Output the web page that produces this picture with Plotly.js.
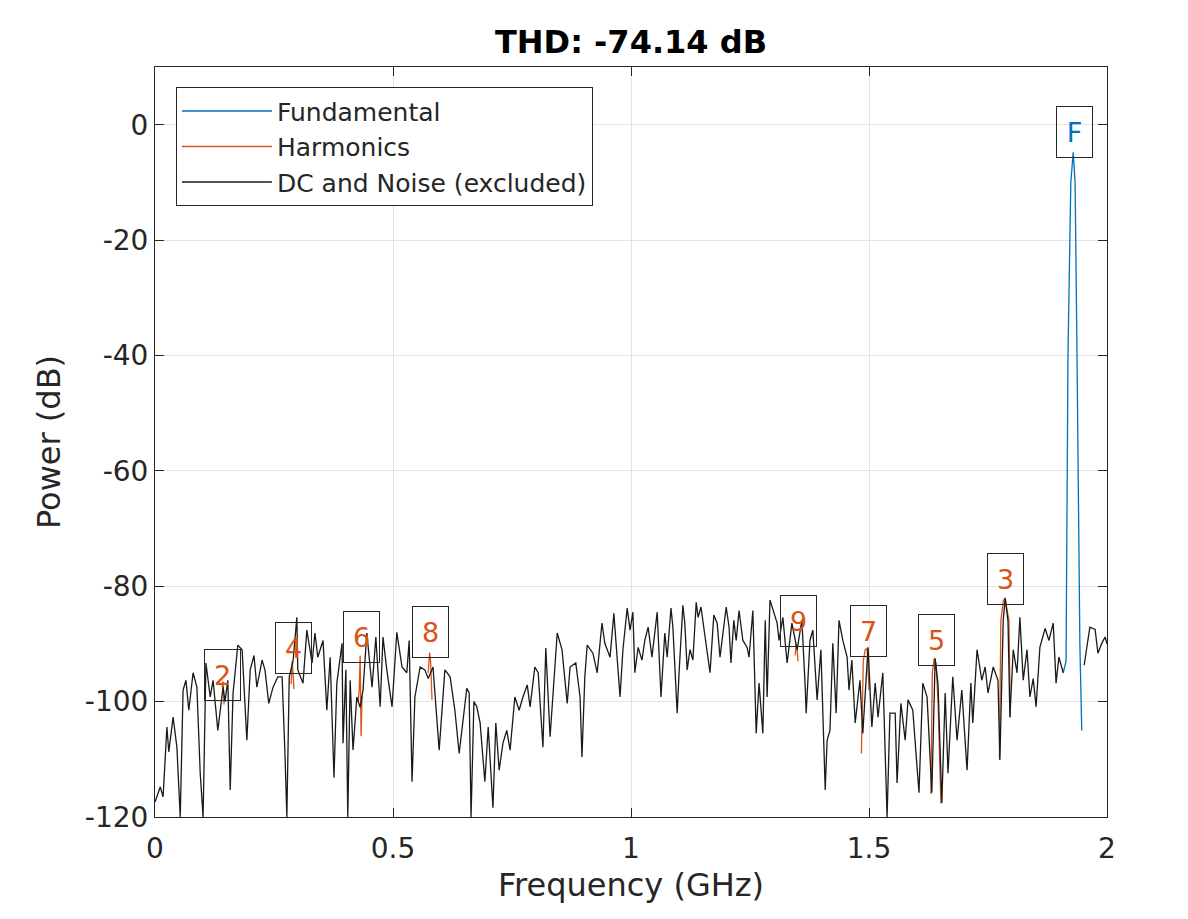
<!DOCTYPE html>
<html>
<head>
<meta charset="utf-8">
<script src="https://cdn.plot.ly/plotly-3.0.1.min.js"></script>
<style>
  html, body { margin: 0; padding: 0; background: #fff; }
  #chart { width: 1188px; height: 919px; }
</style>
</head>
<body>
<div id="chart"></div>
<script>
// spectrum: frequency in GHz, power in dB
const noiseFreq = [
  0, 0.006, 0.011, 0.017, 0.025, 0.029, 0.038, 0.046, 0.053, 0.059, 0.065, 0.071, 0.080, 0.088, 0.095, 0.101,
  0.107, 0.116, 0.122, 0.132, 0.143, 0.147, 0.153, 0.158, 0.164, 0.174, 0.183, 0.193, 0.200, 0.208, 0.214, 0.225,
  0.231, 0.239, 0.248, 0.258, 0.267, 0.273, 0.277, 0.282, 0.290, 0.298, 0.300, 0.311, 0.319, 0.330, 0.336, 0.342,
  0.353, 0.361, 0.368, 0.376, 0.382, 0.393, 0.395, 0.401, 0.405, 0.410, 0.416, 0.424, 0.431, 0.437, 0.445, 0.456,
  0.464, 0.473, 0.479, 0.487, 0.498, 0.508, 0.519, 0.529, 0.534, 0.540, 0.546, 0.557, 0.567, 0.574, 0.584, 0.597,
  0.609, 0.620, 0.630, 0.639, 0.655, 0.660, 0.664, 0.670, 0.676, 0.683, 0.693, 0.700, 0.710, 0.716, 0.723, 0.731,
  0.739, 0.746, 0.756, 0.765, 0.773, 0.782, 0.788, 0.798, 0.805, 0.815, 0.821, 0.830, 0.845, 0.855, 0.866, 0.872,
  0.884, 0.893, 0.897, 0.903, 0.908, 0.920, 0.929, 0.939, 0.945, 0.956, 0.964, 0.977, 0.983, 0.992, 0.998, 1.004,
  1.008, 1.015, 1.023, 1.029, 1.036, 1.044, 1.055, 1.063, 1.071, 1.076, 1.084, 1.088, 1.097, 1.101, 1.109, 1.113,
  1.118, 1.124, 1.130, 1.137, 1.141, 1.147, 1.155, 1.166, 1.174, 1.181, 1.187, 1.200, 1.206, 1.210, 1.216, 1.221,
  1.227, 1.235, 1.244, 1.248, 1.256, 1.263, 1.269, 1.277, 1.282, 1.286, 1.292, 1.307, 1.311, 1.319, 1.328, 1.338,
  1.349, 1.359, 1.366, 1.368, 1.376, 1.382, 1.391, 1.399, 1.408, 1.412, 1.418, 1.424, 1.431, 1.437, 1.445, 1.454,
  1.458, 1.464, 1.471, 1.481, 1.487, 1.498, 1.506, 1.513, 1.519, 1.529, 1.538, 1.544, 1.555, 1.559, 1.567, 1.576,
  1.582, 1.592, 1.605, 1.613, 1.622, 1.632, 1.639, 1.645, 1.653, 1.660, 1.666, 1.676, 1.685, 1.695, 1.706, 1.714,
  1.718, 1.727, 1.737, 1.744, 1.750, 1.761, 1.771, 1.775, 1.782, 1.786, 1.792, 1.796, 1.803, 1.811, 1.817, 1.824,
  1.832, 1.838, 1.845, 1.851, 1.859, 1.870, 1.878, 1.887, 1.893, 1.899, 1.908, null,
  1.952, 1.958, 1.964, 1.975, 1.981, 1.989, 1.996, 2.000
];
const noisePower = [
  -117.4, -116, -114.8, -116.5, -104.4, -108.7, -102.7, -107.9, -120, -98, -96.3, -101.5, -95, -97.5, -112.4, -120,
  -93.3, -99.2, -96.3, -105, -97.5, -100, -96.3, -115.3, -98.5, -90.2, -91, -106.7, -94.5, -92, -97.5, -92.8,
  -94.5, -100.3, -97.5, -95.7, -95.7, -109, -120, -95.7, -93, -85.4, -94.5, -96.8, -87.6, -93.3, -88.1, -92.3,
  -89.4, -101.5, -92.3, -113.2, -96.8, -89.9, -107.2, -94.5, -120, -96.3, -108.4, -99.2, -101, -98, -88.1, -97.5,
  -88.8, -100.9, -88.8, -94.5, -100.9, -88, -94, -95, -89.4, -113.9, -99.2, -94, -94.5, -96, -94, -108.4,
  -94.5, -95.7, -101.5, -109, -97.7, -98.5, -120, -100, -100.9, -103.7, -113.9, -104.4, -118.4, -103.7, -111.9, -107.2,
  -105, -108.4, -99.2, -101.5, -99.2, -97.1, -100.9, -94, -95, -107.9, -90.7, -106.1, -88.1, -91, -100.3, -94,
  -93.3, -99.2, -109.6, -95.7, -90.2, -91.6, -95, -86.4, -89.9, -92.3, -84.7, -99.2, -91, -83.8, -87.6, -84.5,
  -95, -90.6, -92.8, -89.4, -87.1, -92.3, -84.5, -99.2, -88.1, -92.3, -83.8, -87.1, -102, -95, -83.3, -86.4,
  -94.5, -91, -92.8, -82.8, -85.4, -83.6, -88.8, -95, -85, -86.4, -92.3, -83.6, -87.1, -93.3, -85.9, -89.4,
  -84.2, -89.4, -90.6, -92.3, -84.2, -105.5, -96.8, -105.5, -85.9, -99.2, -82.4, -86.4, -89.4, -85.4, -93.3, -86.4,
  -91, -85.9, -97.5, -102, -89.4, -87.6, -99.7, -91, -115.3, -106.7, -105, -89.9, -102, -85.9, -89.4, -92.3,
  -98, -92.8, -103.7, -96.3, -105.5, -90.6, -104.4, -96.8, -102.7, -95, -120, -102, -102, -114.1, -100.3, -106.7,
  -99.7, -101.5, -115.8, -96.8, -99.2, -115.8, -92.5, -97, -117.6, -98.5, -112.4, -95.7, -106.7, -98, -111.9, -96.8,
  -103.7, -91, -96.3, -94, -98.5, -94, -96.3, -110.1, -85.9, -82.1, -86, -102.7, -91, -95, -85.4, -96.3,
  -91, -99.2, -96, -100.9, -90.6, -87.3, -89.4, -86.4, -96.8, -92.3, -95, null,
  -93.7, -90, -87.1, -87.5, -91.6, -89.9, -88.8, -90
];

const fundFreq = [1.908, 1.914, 1.918, 1.924, 1.929, 1.933, 1.937, 1.943, 1.947];
const fundPower = [-95, -93, -40, -10, -4.8, -10, -40, -90, -105];

// harmonic bins, one group per harmonic, separated by null
const harmFreq = [
  0.141, 0.143, 0.145, null,
  0.286, 0.288, 0.290, 0.292, null,
  0.427, 0.429, 0.431, 0.433, 0.435, null,
  0.574, 0.577, 0.579, 0.582, null,
  1.345, 1.347, 1.349, 1.351, null,
  1.484, 1.488, 1.492, 1.496, 1.500, null,
  1.630, 1.633, 1.637, 1.641, 1.645, 1.651, null,
  1.774, 1.777, 1.782, 1.786, 1.790, 1.794, 1.797
];
const harmPower = [
  -97.5, -96.5, -100.5, null,
  -97, -93, -95, -97.8, null,
  -100, -98, -92, -106, -99, null,
  -95, -91.5, -93, -99.7, null,
  -92, -90, -91, -93, null,
  -109, -93, -91, -90.8, -98, null,
  -116, -95, -92.5, -93.5, -100, -117.6, null,
  -110, -86, -82.5, -82, -84, -86, -102.7
];

// marker labels and where their boxes sit
const labelText = ['2', '4', '6', '8', '9', '7', '5', '3', 'F'];
const labelFreq = [0.141, 0.292, 0.433, 0.578, 1.351, 1.498, 1.641, 1.786, 1.931];
const labelPower = [-95.4, -90.7, -88.8, -88.0, -86.1, -87.8, -89.4, -78.8, -1.2];

const xTicks = [0, 0.5, 1, 1.5, 2];
const xTickText = ['0', '0.5', '1', '1.5', '2'];
const yTicks = [-120, -100, -80, -60, -40, -20, 0];
const yTickText = ['-120', '-100', '-80', '-60', '-40', '-20', '0'];

const blue = '#0072BD';
const orange = '#D95319';
const axisColor = '#262626';
const font = 'DejaVu Sans, sans-serif';

const traces = [
  {
    x: fundFreq, y: fundPower, type: 'scatter', mode: 'lines',
    name: 'Fundamental', line: { color: blue, width: 1.3 }
  },
  {
    x: harmFreq, y: harmPower, type: 'scatter', mode: 'lines',
    name: 'Harmonics', line: { color: orange, width: 1.3 }, connectgaps: false
  },
  {
    x: noiseFreq, y: noisePower, type: 'scatter', mode: 'lines',
    name: 'DC and Noise (excluded)', line: { color: '#1a1a1a', width: 1.3 }, connectgaps: false
  }
];

const annotations = labelText.map((t, i) => ({
  x: labelFreq[i], y: labelPower[i], xref: 'x', yref: 'y',
  text: t, showarrow: false,
  font: { family: font, size: 27, color: t === 'F' ? blue : orange },
  width: 31, height: 46, borderpad: 2,
  bordercolor: axisColor, borderwidth: 1
}));

const axisBase = {
  showline: true, linecolor: axisColor, linewidth: 1, mirror: 'ticks',
  ticks: 'inside', ticklen: 9, tickcolor: axisColor,
  showgrid: true, gridcolor: '#e3e3e3', gridwidth: 1,
  zeroline: false,
  tickfont: { family: font, size: 28, color: axisColor }
};

const layout = {
  width: 1188, height: 919,
  paper_bgcolor: '#ffffff', plot_bgcolor: '#ffffff',
  margin: { l: 155, r: 81, t: 67, b: 102 },
  title: {
    text: '<b>THD: -74.14 dB</b>',
    font: { family: font, size: 32, color: '#000000' },
    x: 0.5, xref: 'paper', y: 1 - 42 / 919, yref: 'container', yanchor: 'middle'
  },
  xaxis: Object.assign({}, axisBase, {
    range: [0, 2], tickvals: xTicks, ticktext: xTickText, ticklabelstandoff: 6,
    title: { text: 'Frequency (GHz)', font: { family: font, size: 32, color: axisColor }, standoff: 10 }
  }),
  yaxis: Object.assign({}, axisBase, {
    range: [-120, 10], tickvals: yTicks, ticktext: yTickText,
    title: { text: 'Power (dB)', font: { family: font, size: 32, color: axisColor }, standoff: 14 }
  }),
  showlegend: true,
  legend: {
    x: 0.022, y: 0.973, xanchor: 'left', yanchor: 'top',
    bgcolor: '#ffffff', bordercolor: axisColor, borderwidth: 1,
    font: { family: font, size: 25, color: axisColor },
    itemwidth: 90, tracegroupgap: 0
  },
  annotations: annotations
};

Plotly.newPlot('chart', traces, layout, { displayModeBar: false, staticPlot: true });
</script>
</body>
</html>
